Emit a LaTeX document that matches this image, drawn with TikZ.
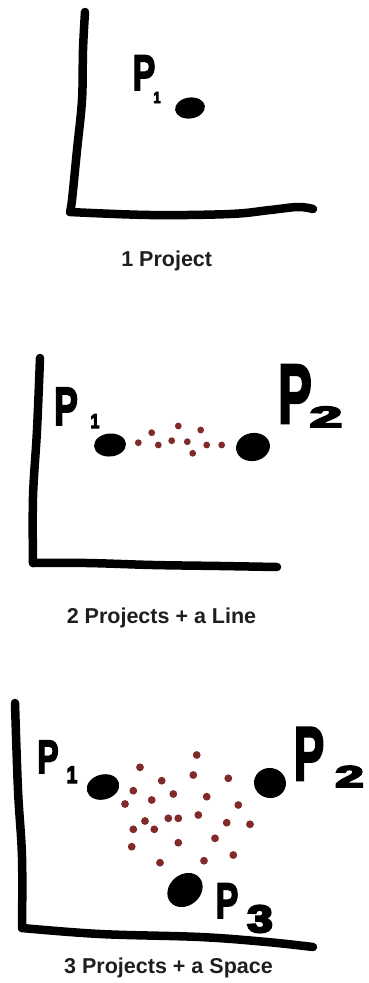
\documentclass[tikz,border=0pt]{standalone}
\usepackage{fontspec}
\setmainfont{Liberation Sans}
\newfontfamily\handfont[FakeBold=3.5]{Liberation Sans Bold}
\newfontfamily\handsubfont[FakeBold=6]{Liberation Sans Bold}
\usepackage{graphicx}
\definecolor{dotred}{RGB}{128,42,42}
\definecolor{inkgray}{RGB}{30,30,30}
\newcommand{\handtxt}[3]{\fontsize{#1}{#1}\selectfont\scalebox{#2}[1]{#3}}
\tikzset{
    axis/.style={
        line width=8.5pt,
        line cap=round,
        line join=round
    },
    hand/.style={
        inner sep=0pt,
        anchor=base,
        font=\handfont
    },
    handsub/.style={
        hand,
        font=\handsubfont
    },
    caption/.style={
        inner sep=0pt,
        anchor=base,
        text=inkgray,
        font=\fontsize{21.5}{25}\selectfont\bfseries
    },
    spot/.style={
        fill=dotred
    }
}

\begin{document}
\begin{tikzpicture}[
    x=1pt,
    y=-1pt
]
    \useasboundingbox (0,0) rectangle (368,983);

    % Un proyecto
    \draw[axis] plot[smooth, tension=0.6] coordinates
        {(85,12) (83,50) (82,100) (77,150) (72,200) (70,212)};
    \draw[axis] plot[smooth, tension=0.6] coordinates
        {(70,212) (150,215) (230,214) (270,210) (298,207) (313,209)};
    \fill[rotate around={8:(190,108)}] (190,108) ellipse (15 and 10.5);
    \node[hand] (pa) at (144,90) {\handtxt{50}{0.68}{P}};
    \node[handsub] (pasub) at (157,103) {\handtxt{16}{0.8}{1}};
    \node[caption] (capa) at (166.7,266) {1 Project};

    % Dos proyectos + una linea
    \draw[axis] plot[smooth, tension=0.6] coordinates
        {(40,358) (37,430) (33,497) (33,563)};
    \draw[axis] plot[smooth, tension=0.6] coordinates
        {(33,563) (87,563) (153,565) (220,566) (277,567)};
    \fill[rotate around={5:(110,445)}] (110,445) ellipse (16 and 11.5);
    \fill[rotate around={10:(253,447)}] (253,447) ellipse (17 and 14);
    \foreach \x/\y in {138.3/442.7, 151.7/432.7, 158.3/445, 171.7/440.7,
        178.3/426, 187.3/441.7, 192.7/453.3, 200.7/430, 206.7/445, 221.7/445}
        \fill[spot] (\x,\y) circle (3.4);
    \node[hand] (pb) at (66,425) {\handtxt{54}{0.66}{P}};
    \node[handsub] (pbsub) at (95,428) {\handtxt{20}{0.8}{1}};
    \node[hand] (pc) at (295,423) {\handtxt{84}{0.6}{P}};
    \node[handsub] (pcsub) at (326,427) {\handtxt{29}{2.0}{2}};
    \node[caption] (capb) at (161.5,623) {2 Projects + a Line};

    % Tres proyectos + un espacio
    \draw[axis] plot[smooth, tension=0.6] coordinates
        {(15,703) (18,790) (22,857) (22,928)};
    \draw[axis] plot[smooth, tension=0.6] coordinates
        {(22,928) (100,934) (200,937) (267,942) (313,947)};
    \fill[rotate around={15:(103,787)}] (103,787) ellipse (16.5 and 12.5);
    \fill[rotate around={-10:(270,783)}] (270,783) ellipse (16 and 15);
    \fill[rotate around={40:(185,890)}] (185,890) ellipse (19 and 15.5);
    \foreach \x/\y in {196.7/755, 140/767.3, 193.3/775, 161.7/780.7, 228.3/778.3,
        133.3/790.7, 173.3/794, 151.7/800, 206.7/796.7, 125/804, 238.3/805,
        168.3/818.3, 178.3/818.3, 198.3/815, 145/821, 133.3/829.3, 154.3/829.3,
        226.7/822.7, 250/824.3, 131.7/846.7, 178.3/842.7, 215/838.3,
        160/862.7, 204/860.7, 233.3/855}
        \fill[spot] (\x,\y) circle (3.9);
    \node[hand] (pd) at (48,773) {\handtxt{47}{0.68}{P}};
    \node[handsub] (pdsub) at (72,783) {\handtxt{24}{0.8}{1}};
    \node[hand] (pe) at (309,780) {\handtxt{76}{0.6}{P}};
    \node[handsub] (pesub) at (349.5,787) {\handtxt{30}{1.7}{2}};
    \node[hand] (pf) at (227,918) {\handtxt{50}{0.68}{P}};
    \node[handsub] (pfsub) at (260,932) {\handtxt{38}{1.2}{3}};
    \node[caption] (capc) at (168.5,973) {3 Projects + a Space};

\end{tikzpicture}
\end{document}
